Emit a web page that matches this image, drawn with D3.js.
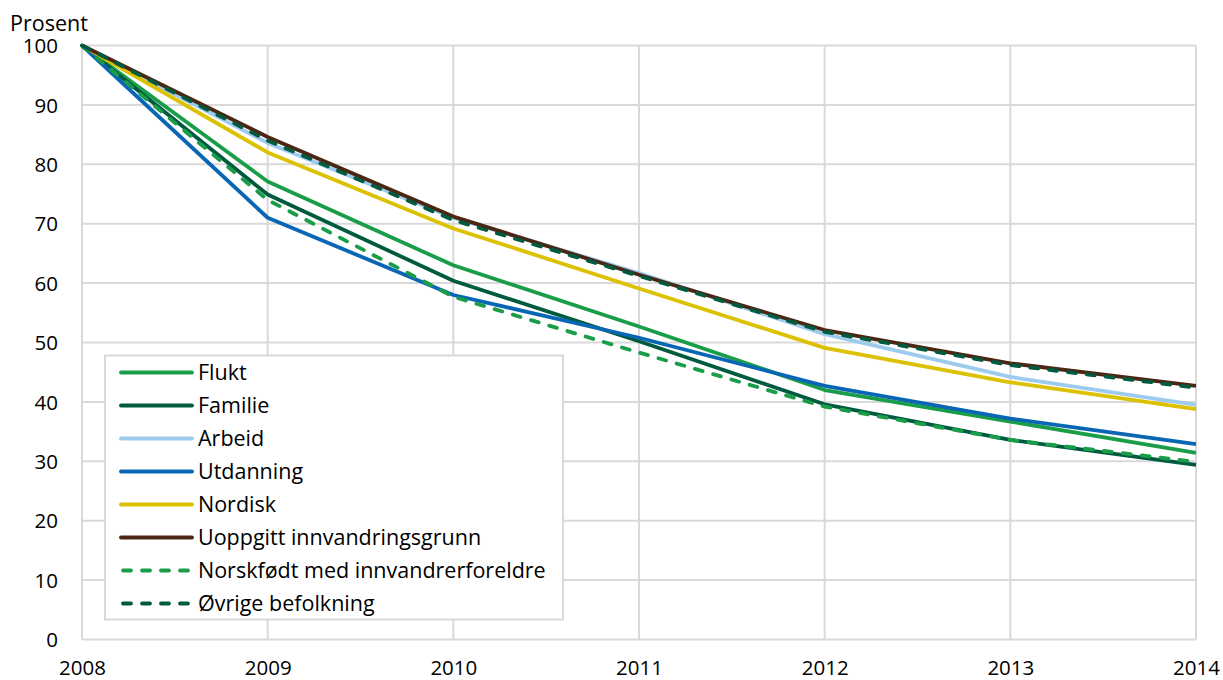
<!DOCTYPE html>
<html><head><meta charset="utf-8">
<script src="https://cdn.jsdelivr.net/npm/d3@7"></script>
<style>body{margin:0;background:#fff}svg{font-family:"Open Sans",sans-serif}</style>
</head><body><svg id="c" width="1223" height="680"></svg>
<script>
const years = [2008, 2009, 2010, 2011, 2012, 2013, 2014];
const yTicks = [0, 10, 20, 30, 40, 50, 60, 70, 80, 90, 100];
const seriesNames = ["Flukt", "Familie", "Arbeid", "Utdanning", "Nordisk", "Uoppgitt innvandringsgrunn", "Norskfødt med innvandrerforeldre", "Øvrige befolkning"];
const flukt      = [100, 77.1, 63.0, 52.7, 42.0, 36.7, 31.4];
const familie    = [100, 74.9, 60.4, 50.2, 39.6, 33.6, 29.4];
const arbeid     = [100, 83.6, 71.0, 61.7, 51.4, 44.2, 39.5];
const utdanning  = [100, 71.0, 58.0, 50.8, 42.7, 37.2, 32.9];
const nordisk    = [100, 82.0, 69.2, 59.1, 49.1, 43.3, 38.8];
const uoppgitt   = [100, 84.6, 71.2, 61.4, 52.1, 46.5, 42.7];
const norskfodt  = [100, 74.0, 57.7, 48.3, 39.2, 33.6, 29.9];
const ovrige     = [100, 84.0, 70.6, 61.2, 51.8, 46.2, 42.4];
const seriesValues = [flukt, familie, arbeid, utdanning, nordisk, uoppgitt, norskfodt, ovrige];
const colors = ["#1a9d49", "#005a3f", "#9ccbee", "#0866b5", "#dcc100", "#4b2613", "#1a9d49", "#005a3f"];
const dashed = [false, false, false, false, false, false, true, true];

const svg = d3.select("#c");
const L = 82, R = 1196, T = 45.5, B = 639.5;
const x = d3.scaleLinear().domain([2008, 2014]).range([L, R]);
const y = d3.scaleLinear().domain([0, 100]).range([B, T]);
const grid = "#d9d9d9";

svg.append("g").selectAll("line").data(yTicks).join("line")
  .attr("x1", L).attr("x2", R).attr("y1", d => y(d)).attr("y2", d => y(d))
  .attr("stroke", grid).attr("stroke-width", 2);
svg.append("g").selectAll("line").data(years).join("line")
  .attr("x1", d => x(d)).attr("x2", d => x(d)).attr("y1", T).attr("y2", B)
  .attr("stroke", grid).attr("stroke-width", 2);

const yAxis = d3.axisLeft(y).tickValues(yTicks).tickSize(0).tickPadding(24);
const ga = svg.append("g").attr("transform", `translate(${L},0)`).call(yAxis);
ga.select(".domain").remove();
ga.selectAll("text").attr("font-size", 20.5).attr("fill", "#000").attr("font-family", "Open Sans").attr("dy", "0.35em");

const xAxis = d3.axisBottom(x).tickValues(years).tickFormat(d3.format("d")).tickSize(0).tickPadding(21);
const gx = svg.append("g").attr("transform", `translate(0,${B})`).call(xAxis);
gx.select(".domain").remove();
gx.selectAll("text").attr("font-size", 20.5).attr("fill", "#000").attr("font-family", "Open Sans");

svg.append("text").attr("x", 10).attr("y", 31).attr("font-size", 21.5).text("Prosent");

const line = d3.line().x((d, i) => x(years[i])).y(d => y(d));
seriesValues.forEach((vals, i) => {
  svg.append("path").datum(vals).attr("d", line).attr("fill", "none")
    .attr("stroke", colors[i]).attr("stroke-width", 3.8)
    .attr("stroke-linejoin", "round")
    .attr("stroke-linecap", dashed[i] ? "round" : "butt")
    .attr("stroke-dasharray", dashed[i] ? "8,11" : null);
});

const lg = svg.append("g");
lg.append("rect").attr("x", 105).attr("y", 355.5).attr("width", 458).attr("height", 264)
  .attr("fill", "#fff").attr("stroke", grid).attr("stroke-width", 2);
seriesNames.forEach((n, i) => {
  const yy = 372.5 + i * 33;
  lg.append("line").attr("x1", dashed[i] ? 123 : 121).attr("x2", dashed[i] ? 190 : 192)
    .attr("y1", yy).attr("y2", yy).attr("stroke", colors[i]).attr("stroke-width", 3.8)
    .attr("stroke-linecap", "round")
    .attr("stroke-dasharray", dashed[i] ? "8,11" : null);
  lg.append("text").attr("x", 198).attr("y", yy).attr("dy", "0.35em")
    .attr("font-size", 21.5).text(n);
});
</script></body></html>
